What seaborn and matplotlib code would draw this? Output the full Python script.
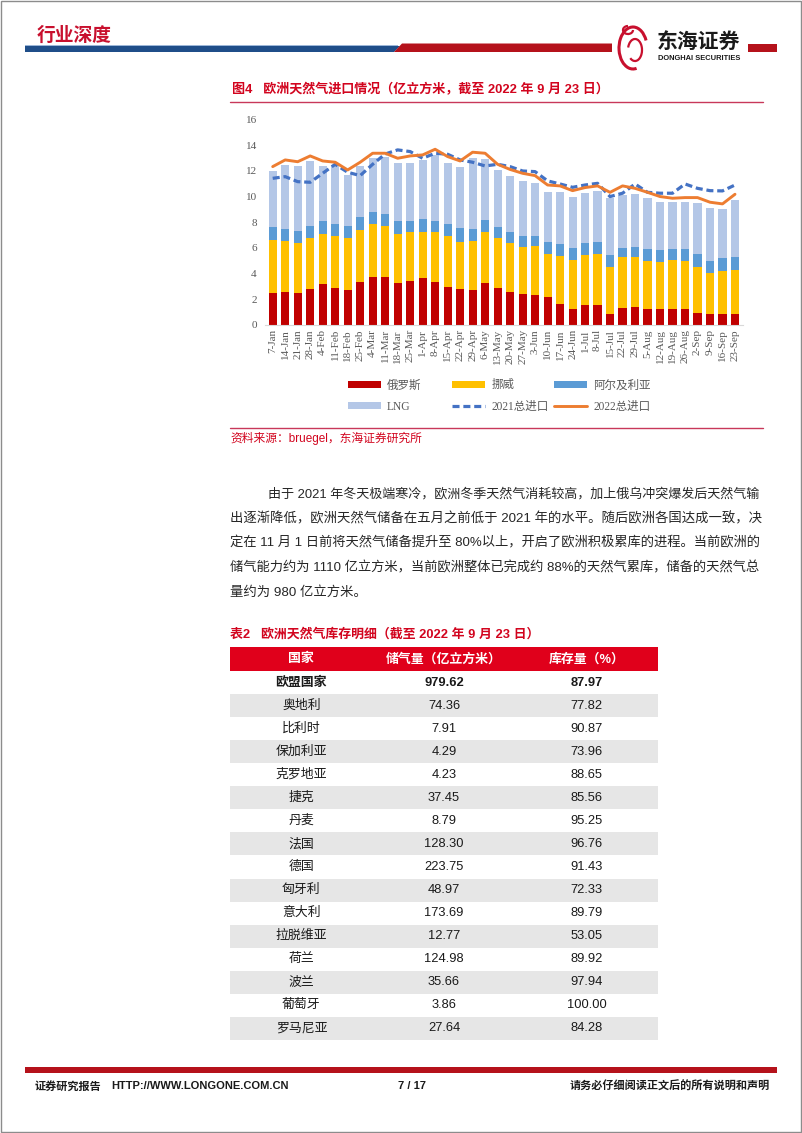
import numpy as np
import pandas as pd
import matplotlib
matplotlib.use("Agg")
import matplotlib.pyplot as plt
import seaborn as sns
from matplotlib.patches import Patch, Rectangle, Polygon, Arc
from matplotlib.lines import Line2D

# ---------------- data ----------------
weeks = ["7-Jan", "14-Jan", "21-Jan", "28-Jan", "4-Feb", "11-Feb", "18-Feb", "25-Feb",
         "4-Mar", "11-Mar", "18-Mar", "25-Mar", "1-Apr", "8-Apr", "15-Apr", "22-Apr",
         "29-Apr", "6-May", "13-May", "20-May", "27-May", "3-Jun", "10-Jun", "17-Jun",
         "24-Jun", "1-Jul", "8-Jul", "15-Jul", "22-Jul", "29-Jul", "5-Aug", "12-Aug",
         "19-Aug", "26-Aug", "2-Sep", "9-Sep", "16-Sep", "23-Sep"]
russia = [2.52, 2.59, 2.52, 2.83, 3.19, 2.90, 2.72, 3.37, 3.74, 3.74, 3.24, 3.42, 3.68,
          3.37, 2.96, 2.83, 2.75, 3.27, 2.90, 2.55, 2.41, 2.33, 2.18, 1.63, 1.25, 1.56,
          1.56, 0.83, 1.30, 1.40, 1.25, 1.25, 1.25, 1.25, 0.91, 0.83, 0.83, 0.83]
norway = [4.09, 3.97, 3.89, 3.97, 3.89, 4.05, 4.08, 4.05, 4.12, 3.99, 3.87, 3.79, 3.58,
          3.84, 3.99, 3.66, 3.76, 3.94, 3.84, 3.86, 3.69, 3.84, 3.35, 3.74, 3.81, 3.89,
          3.97, 3.68, 3.99, 3.89, 3.76, 3.65, 3.81, 3.76, 3.60, 3.24, 3.37, 3.48]
algeria = [1.04, 0.94, 0.93, 0.93, 0.99, 0.94, 0.93, 0.96, 0.91, 0.93, 1.01, 0.91, 0.96,
           0.91, 0.94, 1.03, 0.93, 0.94, 0.91, 0.85, 0.83, 0.78, 0.96, 0.96, 0.91, 0.96,
           0.96, 0.94, 0.68, 0.78, 0.88, 0.94, 0.85, 0.90, 1.02, 0.91, 1.04, 1.01]
lng = [4.33, 4.93, 5.03, 5.03, 4.30, 4.56, 3.94, 3.99, 4.25, 4.44, 4.46, 4.51, 4.62,
       5.11, 4.69, 4.78, 5.53, 4.74, 4.41, 4.34, 4.30, 4.13, 3.83, 3.99, 3.97, 3.84,
       3.94, 4.41, 4.15, 4.10, 3.97, 3.71, 3.64, 3.69, 3.94, 4.10, 3.76, 4.38]
total_2021 = [11.41, 11.54, 11.15, 11.10, 11.80, 12.50, 11.88, 11.62, 12.50, 13.30, 13.62,
              13.49, 12.97, 13.36, 13.28, 12.84, 12.66, 12.37, 12.50, 12.32, 11.98, 11.93,
              11.21, 10.97, 10.71, 10.89, 11.02, 9.99, 10.25, 10.97, 10.32, 10.25, 10.25,
              10.97, 10.63, 10.45, 10.43, 10.89]
total_2022 = [12.32, 12.84, 12.70, 13.15, 12.76, 12.66, 12.06, 12.66, 13.36, 13.36, 12.97,
              13.15, 13.23, 13.67, 13.10, 12.76, 13.44, 13.36, 12.50, 12.10, 11.80, 11.62,
              10.89, 10.82, 10.45, 10.69, 10.82, 10.32, 10.82, 10.63, 10.32, 9.99, 9.86,
              9.91, 9.91, 9.55, 9.42, 10.17]
y_ticks = [0, 2, 4, 6, 8, 10, 12, 14, 16]
series_labels = ["俄罗斯", "挪威", "阿尔及利亚", "LNG", "2021总进口", "2022总进口"]

table_header = ["国家", "储气量（亿立方米）", "库存量（%）"]
countries = ["欧盟国家", "奥地利", "比利时", "保加利亚", "克罗地亚", "捷克", "丹麦", "法国",
             "德国", "匈牙利", "意大利", "拉脱维亚", "荷兰", "波兰", "葡萄牙", "罗马尼亚"]
storage = ["979.62", "74.36", "7.91", "4.29", "4.23", "37.45", "8.79", "128.30", "223.75",
           "48.97", "173.69", "12.77", "124.98", "35.66", "3.86", "27.64"]
fill_pct = ["87.97", "77.82", "90.87", "73.96", "88.65", "85.56", "95.25", "96.76", "91.43",
            "72.33", "89.79", "53.05", "89.92", "97.94", "100.00", "84.28"]

paragraph = [
    "由于 2021 年冬天极端寒冷，欧洲冬季天然气消耗较高，加上俄乌冲突爆发后天然气输",
    "出逐渐降低，欧洲天然气储备在五月之前低于 2021 年的水平。随后欧洲各国达成一致，决",
    "定在 11 月 1 日前将天然气储备提升至 80%以上，开启了欧洲积极累库的进程。当前欧洲的",
    "储气能力约为 1110 亿立方米，当前欧洲整体已完成约 88%的天然气累库，储备的天然气总",
    "量约为 980 亿立方米。",
]

# ---------------- style ----------------
sns.set_style("white")
plt.rcParams["font.family"] = ["Noto Sans CJK SC", "DejaVu Sans"]
plt.rcParams["axes.unicode_minus"] = False

W, H = 802, 1133
fig = plt.figure(figsize=(W / 100, H / 100), dpi=100)
fig.patch.set_facecolor("white")

RED_T = "#D2041E"
SANS = ["Liberation Sans", "Noto Sans CJK SC"]
CJK = ["Noto Sans CJK SC", "DejaVu Sans"]
SERIF = ["Liberation Serif", "Noto Sans CJK SC"]

# page overlay axes in pixel coordinates
pg = fig.add_axes([0, 0, 1, 1])
pg.set_xlim(0, W)
pg.set_ylim(H, 0)
pg.axis("off")
pg.patch.set_alpha(0)

# page border
pg.add_patch(Rectangle((0.5, 0.5), W - 1.5, H - 1.5, fill=False, ec="#8C8C8C", lw=1))

# header
pg.text(37, 35, "行业深度", fontsize=13.5, fontweight="bold", color="#C8102E",
        family=CJK, va="center", ha="left")
pg.add_patch(Rectangle((25, 45), 373, 1.2, color="#9DB7D8", lw=0))
pg.add_patch(Polygon([(25, 46), (400, 46), (394, 52), (25, 52)], closed=True,
                     color="#1F4E89", lw=0))
pg.add_patch(Polygon([(394, 52), (402, 43.5), (612, 43.5), (612, 52)], closed=True,
                     color="#B5121B", lw=0))
pg.add_patch(Rectangle((748, 43.5), 29, 8.5, color="#B5121B", lw=0))
# logo
pg.add_patch(Arc((633, 48), 28, 42, theta1=80, theta2=330, color="#C8102E", lw=2.2))
pg.add_patch(Arc((635, 50), 14, 22, theta1=200, theta2=120, color="#C8102E", lw=1.6))
pg.add_patch(Arc((628, 30), 10, 8, theta1=0, theta2=270, color="#C8102E", lw=1.6))
pg.text(657, 41, "东海证券", fontsize=15, fontweight="bold", color="#1A1A1A",
        family=CJK, va="center", ha="left")
pg.text(658, 59, "DONGHAI SECURITIES", fontsize=5.4, fontweight="bold", color="#1A1A1A",
        family=SANS, va="center", ha="left")

# figure title
pg.text(232, 90, "图4   欧洲天然气进口情况（亿立方米，截至 2022 年 9 月 23 日）", fontsize=9.4,
        fontweight="bold", color=RED_T, family=SANS, va="center", ha="left")
pg.plot([230, 763], [102, 102], color="#C8385A", lw=1)

# ---------------- chart ----------------
ax = fig.add_axes([265.2 / W, 1 - 325 / H, 477.3 / W, 205.7 / H])
df = pd.DataFrame({"week": weeks, "russia": russia, "norway": norway,
                   "algeria": algeria, "lng": lng})
df["c1"] = df["russia"]
df["c2"] = df["c1"] + df["norway"]
df["c3"] = df["c2"] + df["algeria"]
df["c4"] = df["c3"] + df["lng"]
colors = {"c4": "#B4C7E7", "c3": "#5B9BD5", "c2": "#FFC000", "c1": "#C00000"}
for col in ["c4", "c3", "c2", "c1"]:
    sns.barplot(data=df, x="week", y=col, color=colors[col], saturation=1,
                width=0.65, errorbar=None, linewidth=0, ax=ax)
xpos = np.arange(len(weeks))
sns.lineplot(x=xpos, y=total_2021, color="#4472C4", linewidth=2.3, ax=ax)
ax.lines[-1].set_dashes([2.2, 1.2])
sns.lineplot(x=xpos, y=total_2022, color="#ED7D31", linewidth=2.1, ax=ax)

ax.set_xlim(-0.6, len(weeks) - 0.4)
ax.set_ylim(0, 16)
ax.set_yticks(y_ticks)
ax.set_yticklabels([str(v) for v in y_ticks], family=SERIF, fontsize=8, color="#595959")
ax.set_xticks(xpos)
ax.set_xticklabels(weeks, rotation=90, family=SERIF, fontsize=8, color="#595959")
ax.set_xticks(np.arange(-0.5, len(weeks), 1), minor=True)
ax.tick_params(axis="x", which="major", length=0, pad=3)
ax.tick_params(axis="x", which="minor", length=4, color="#C9D3DF", width=0.8)
ax.tick_params(axis="y", length=0, pad=6)
ax.set_xlabel("")
ax.set_ylabel("")
for s in ["left", "top", "right"]:
    ax.spines[s].set_visible(False)
ax.spines["bottom"].set_color("#D9D9D9")
ax.spines["bottom"].set_linewidth(0.8)
ax.grid(False)
ax.patch.set_alpha(0)

# legend (three columns)
h_ru = Patch(color="#C00000", lw=0)
h_no = Patch(color="#FFC000", lw=0)
h_al = Patch(color="#5B9BD5", lw=0)
h_lng = Patch(color="#B4C7E7", lw=0)
h_21 = Line2D([], [], color="#4472C4", lw=2.3, dashes=[2.2, 1.2])
h_22 = Line2D([], [], color="#ED7D31", lw=2.1)
legend_cols = [([h_ru, h_lng], [series_labels[0], series_labels[3]], 348),
               ([h_no, h_21], [series_labels[1], series_labels[4]], 452),
               ([h_al, h_22], [series_labels[2], series_labels[5]], 554)]
for hs, ls, x0 in legend_cols:
    leg = fig.legend(hs, ls, loc="center left", bbox_to_anchor=(x0 / W, 1 - 396 / H),
                     frameon=False, borderpad=0, borderaxespad=0, handlelength=2.9,
                     handleheight=0.55, handletextpad=0.5, labelspacing=0.8,
                     prop={"family": SERIF, "size": 8.3})
    for t in leg.get_texts():
        t.set_color("#595959")

pg.plot([230, 763], [428, 428], color="#C8385A", lw=1)
pg.text(230, 438, "资料来源：bruegel，东海证券研究所", fontsize=8.5, color=RED_T,
        family=SANS, va="center", ha="left")

# ---------------- paragraph (justified to the right margin) ----------------
renderer = fig.canvas.get_renderer()
line_y = [494, 518.5, 543, 567.5, 592]
for i, (ln, yy) in enumerate(zip(paragraph, line_y)):
    x0 = 268 if i == 0 else 230
    t = pg.text(x0, yy, ln, fontsize=9.6, color="#262626",
                family=SANS, va="center", ha="left")
    if i < len(paragraph) - 1:
        w = t.get_window_extent(renderer).width
        t.set_fontsize(9.6 * (763 - x0) / w)

# ---------------- table ----------------
pg.text(230, 634, "表2   欧洲天然气库存明细（截至 2022 年 9 月 23 日）", fontsize=9.3,
        fontweight="bold", color=RED_T, family=SANS, va="center", ha="left")
tx0, tx1 = 230, 658
col_w = (tx1 - tx0) / 3
col_c = [tx0 + col_w * (k + 0.5) for k in range(3)]
top, hdr_h, row_h = 647, 24, 23.06
pg.add_patch(Rectangle((tx0, top), tx1 - tx0, hdr_h, color="#E0001B", lw=0))
for k, h in enumerate(table_header):
    pg.text(col_c[k], top + hdr_h / 2, h, fontsize=9.3, fontweight="bold", color="white",
            family=SANS, va="center", ha="center")
for r, (c, s, f) in enumerate(zip(countries, storage, fill_pct)):
    y0 = top + hdr_h + r * row_h
    if r % 2 == 1:
        pg.add_patch(Rectangle((tx0, y0), tx1 - tx0, row_h, color="#E6E6E6", lw=0))
    wt = "bold" if r == 0 else "normal"
    for k, v in enumerate([c, s, f]):
        pg.text(col_c[k], y0 + row_h / 2, v, fontsize=9.3, fontweight=wt, color="#1A1A1A",
                family=SANS, va="center", ha="center")

# ---------------- footer ----------------
pg.add_patch(Rectangle((25, 1067), 752, 6, color="#B5121B", lw=0))
pg.text(35, 1086, "证券研究报告", fontsize=8, fontweight="bold", color="#1A1A1A",
        family=CJK, va="center", ha="left")
pg.text(111, 1086, "HTTP://WWW.LONGONE.COM.CN", fontsize=8, fontweight="bold",
        color="#1A1A1A", family=SANS, va="center", ha="left")
pg.text(412, 1086, "7 / 17", fontsize=8, fontweight="bold", color="#1A1A1A",
        family=SANS, va="center", ha="center")
pg.text(770, 1086, "请务必仔细阅读正文后的所有说明和声明", fontsize=8, fontweight="bold",
        color="#1A1A1A", family=CJK, va="center", ha="right")

fig.savefig("out.png", dpi=100, facecolor="white")
